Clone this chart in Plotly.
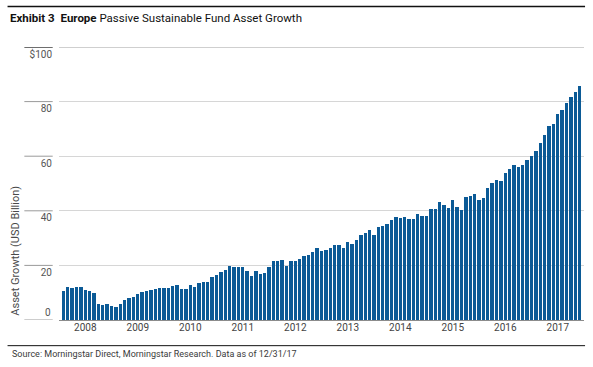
import plotly.graph_objects as go

# ---- data (USD billion, month-end values) ----
years = ['2008', '2009', '2010', '2011', '2012', '2013', '2014', '2015', '2016', '2017']
assets = [
    10.7, 12.1, 11.6, 12.1, 12.2, 11.1, 10.7, 9.9, 6.0, 5.6, 6.0,
    5.3, 4.9, 5.9, 7.2, 8.0, 8.4, 9.5, 10.1, 10.7, 10.9, 11.4, 11.9,
    11.7, 11.7, 12.6, 12.8, 11.4, 11.5, 12.8, 12.0, 13.4, 14.1, 13.8, 15.7,
    16.6, 17.7, 18.2, 19.8, 19.4, 19.3, 19.5, 18.0, 16.0, 18.0, 16.9, 17.2,
    19.3, 21.5, 21.5, 21.8, 19.8, 21.7, 21.5, 22.3, 23.4, 23.8, 24.9, 26.2,
    25.4, 25.7, 26.2, 27.6, 27.4, 26.3, 28.4, 27.7, 29.4, 31.0, 31.8, 32.8,
    31.3, 33.9, 34.5, 35.1, 36.8, 37.6, 37.2, 37.9, 36.9, 36.9, 38.9, 38.2,
    38.2, 40.7, 40.7, 43.1, 42.2, 40.9, 44.0, 41.5, 40.4, 45.1, 45.6, 46.1,
    44.1, 44.8, 48.5, 50.2, 51.2, 51.1, 53.7, 55.3, 56.6, 56.0, 56.6, 58.7,
    60.0, 62.0, 64.7, 67.8, 71.0, 71.8, 75.5, 77.0, 79.5, 81.6, 83.4, 85.7,
]
y_ticks = [0, 20, 40, 60, 80, 100]
y_tick_text = ['0', '20', '40', '60', '80', '$100']

FONT = "Roboto, Liberation Sans, sans-serif"
BAR = '#0b5a96'

# month slots: axis spans Jan 2008 .. Dec 2017 (120 months); each value sits at its month end
x = [i + 1 for i in range(len(assets))]
n_months = 12 * len(years)

fig = go.Figure(go.Bar(
    x=x, y=assets, width=0.78,
    marker=dict(color=BAR, line=dict(width=0)),
    hovertemplate='%{y:.1f}<extra></extra>',
))

shapes = []
# short tick dashes in the left margin
for v in y_ticks:
    shapes.append(dict(type='line', xref='paper', yref='y', x0=-0.066, x1=-0.012, y0=v, y1=v,
                       line=dict(color='#6e6e6e' if v == 100 else '#9a9a9a', width=2 if v == 100 else 1)))
# thicker top gridline
shapes.append(dict(type='line', xref='paper', yref='y', x0=0, x1=1, y0=100, y1=100,
                   line=dict(color='#cfcfcf', width=2)))
# black rules at top and bottom of the exhibit
shapes.append(dict(type='line', xref='paper', yref='paper', x0=-0.098, x1=1.002, y0=1.148, y1=1.148,
                   line=dict(color='#111111', width=1.5)))
shapes.append(dict(type='line', xref='paper', yref='paper', x0=-0.098, x1=1.002, y0=-0.094, y1=-0.094,
                   line=dict(color='#111111', width=1)))

annotations = [
    dict(text='Asset Growth (USD Billion)', textangle=-90, xref='paper', yref='paper',
         x=-0.083, y=0.01, xanchor='center', yanchor='bottom', showarrow=False,
         font=dict(family=FONT, size=11, color='#4a4a4a')),
    dict(text='Source: Morningstar Direct, Morningstar Research. Data as of 12/31/17',
         xref='paper', yref='paper', x=-0.094, y=-0.125, xanchor='left', yanchor='middle',
         showarrow=False, font=dict(family=FONT, size=9, color='#3a3a3a')),
    # the zero label sits above its dash
    dict(text=y_tick_text[0], xref='paper', yref='y', x=-0.012, y=y_ticks[0],
         xanchor='right', yanchor='bottom', showarrow=False,
         font=dict(family=FONT, size=10, color='#555555')),
]

fig.update_layout(
    width=593, height=367,
    margin=dict(l=59, r=9, t=47, b=47),
    paper_bgcolor='white', plot_bgcolor='white',
    showlegend=False, bargap=0,
    font=dict(family=FONT, size=10, color='#444444'),
    title=dict(text='<b>Exhibit 3\u2002Europe</b> Passive Sustainable Fund Asset Growth',
               xref='container', yref='container', x=10 / 593, xanchor='left',
               y=1 - 18 / 367, yanchor='middle',
               font=dict(family=FONT, size=11.5, color='#111111')),
    xaxis=dict(range=[0, n_months], tickmode='array',
               tickvals=[6 + 12 * k for k in range(len(years))], ticktext=years,
               showgrid=False, zeroline=False, showline=False, ticks='',
               tickfont=dict(family=FONT, size=10, color='#444444')),
    yaxis=dict(range=[0, 100], tickmode='array', tickvals=y_ticks,
               ticktext=[''] + y_tick_text[1:],
               showgrid=True, gridcolor='#d6d6d6', gridwidth=1,
               zeroline=True, zerolinecolor='#8c8c8c', zerolinewidth=1,
               showline=False, ticks='', ticklabelposition='outside bottom',
               ticklabelstandoff=6,
               tickfont=dict(family=FONT, size=10, color='#555555')),
    shapes=shapes, annotations=annotations,
)

fig.write_html('out.html')
